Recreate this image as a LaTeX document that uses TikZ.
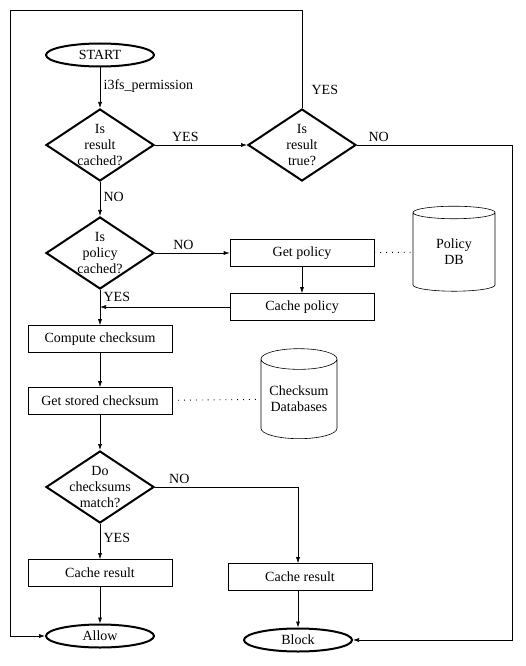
\documentclass[tikz,border=0pt]{standalone}
\usepackage{fontspec}
\setmainfont{Liberation Serif}
\usetikzlibrary{shapes.geometric,arrows.meta}

\begin{document}
\begin{tikzpicture}[x=1pt,y=-1pt,line width=.6pt,
  font=\fontsize{14}{16}\selectfont, >={Latex[length=6pt,width=4pt]},
  term/.style={ellipse,draw,line width=2pt,minimum width=108pt,minimum height=23pt,inner sep=0pt},
  decide/.style={diamond,draw,line width=2pt,minimum width=108pt,minimum height=72pt,inner sep=0pt},
  qtext/.style={align=center,inner sep=0pt},
  stepbox/.style={draw,minimum width=144pt,minimum height=27pt,inner sep=0pt},
  store/.style={cylinder,shape border rotate=90,draw,aspect=.35,align=center,inner sep=0pt},
  link/.style={line width=.9pt,dash pattern=on .9pt off 5pt}]
  \useasboundingbox (0,0) rectangle (525,666);
  \coordinate (lc) at (10,10);
  \coordinate (rc) at (512,0);
  % left column
  \node[term] (start) at (100,55) {START};
  \node[decide,label={[qtext]center:Is\\result\\cached?}] (rescached) at (100,145) {};
  \node[decide,label={[qtext]center:Is\\policy\\cached?}] (polcached) at (100,253) {};
  \node[stepbox] (compute) at (100,339) {Compute checksum};
  \node[stepbox] (getstored) at (100,401) {Get stored checksum};
  \node[decide,label={[qtext]center:Do\\checksums\\match?}] (match) at (100,487) {};
  \node[stepbox] (cacheyes) at (100,573) {Cache result};
  \node[term] (allow) at (100,636) {Allow};
  % right column
  \node[decide,label={[qtext]center:Is\\result\\true?}] (restrue) at (302,145) {};
  \node[stepbox] (getpol) at (302,253) {Get policy};
  \node[stepbox] (cachepol) at (302,307) {Cache policy};
  \node[stepbox] (cacheno) at (300,577) {Cache result};
  \node[term] (block) at (298,640) {Block};
  % databases
  \node[store,minimum width=82pt,minimum height=85pt] (poldb) at (454,252) {Policy\\DB};
  \node[store,minimum width=76pt,minimum height=90pt] (sumdb) at (299,399) {Checksum\\Databases};

  \path[->]
  (start) edge node[right,pos=.45] {i3fs\_permission} (rescached)
  (rescached) edge node[above,pos=.33] {YES} (restrue)
  edge node[right,pos=.45] {NO} (polcached)
  (polcached) edge node[above,pos=.38] {NO} (getpol)
  edge node[right,pos=.2] {YES} (compute)
  (getpol) edge (cachepol)
  (cachepol) edge (cachepol -| polcached)
  (compute) edge (getstored)
  (getstored) edge (match)
  (match) edge node[right,pos=.4] {YES} (cacheyes)
  (cacheyes) edge (allow)
  (cacheno.south -| block) edge (block)
  ;
  \draw[->] (restrue.north) -- node[right=6pt,pos=.18] {YES} (restrue |- lc) -- (lc) |- (allow);
  \draw[->] (restrue.east) -- node[above,pos=.14] {NO} (restrue -| rc) |- (block);
  \draw[->] (match.east) -- node[above,pos=.17] {NO} (match -| block) -- (cacheno.north -| block);
  \draw[link] (getpol) -- (poldb) (getstored) -- (sumdb);
\end{tikzpicture}
\end{document}
